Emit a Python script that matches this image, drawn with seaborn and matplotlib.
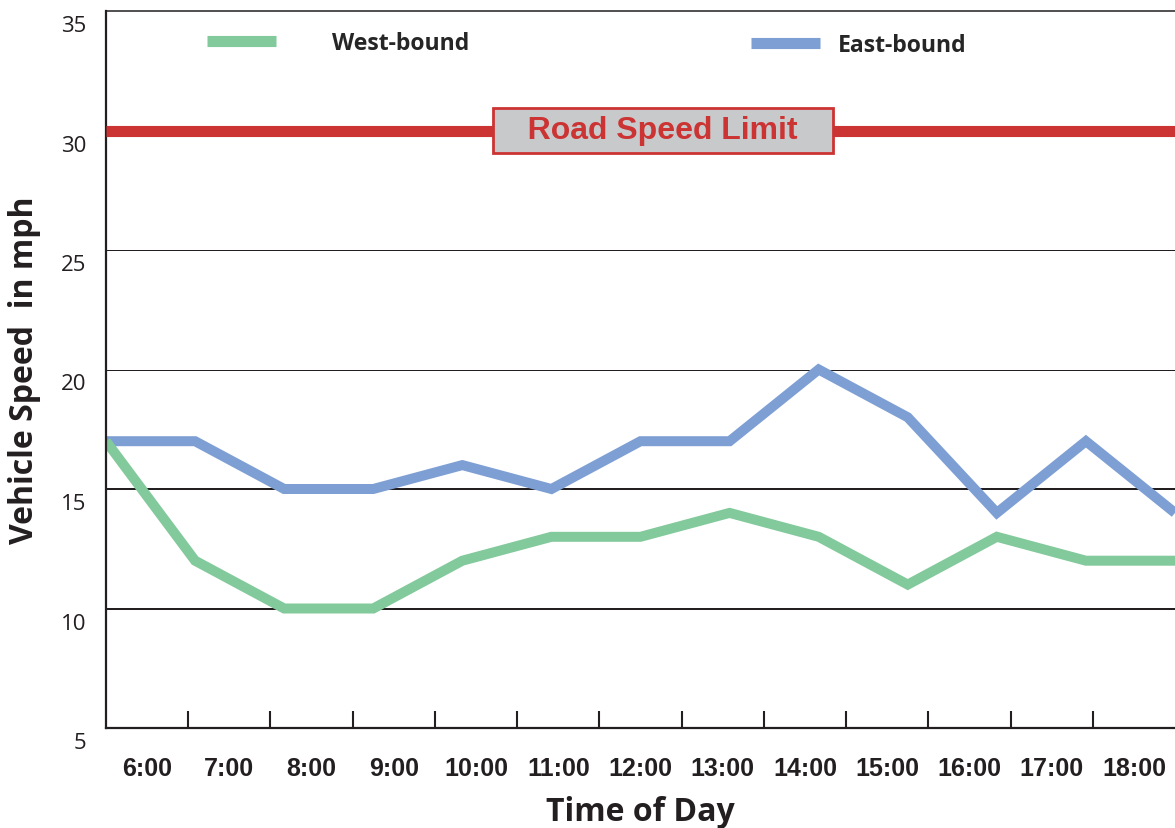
import numpy as np
import pandas as pd
import matplotlib
matplotlib.use("Agg")
import matplotlib.pyplot as plt
import matplotlib.transforms as mtransforms
import seaborn as sns

# data
hours = ["6:00", "7:00", "8:00", "9:00", "10:00", "11:00", "12:00",
         "13:00", "14:00", "15:00", "16:00", "17:00", "18:00"]
west_bound = [17, 12, 10, 10, 12, 13, 13, 14, 13, 11, 13, 12, 12]
east_bound = [17, 17, 15, 15, 16, 15, 17, 17, 20, 18, 14, 17, 14]
speed_limit = 30
y_ticks = [5, 10, 15, 20, 25, 30, 35]
grid_levels = [10, 15, 20, 25]
grid_widths = [2.0, 2.0, 1.0, 1.0]

ink = "#231f20"
green = "#82c99b"
blue = "#7e9fd4"
red = "#cc3333"

sns.set_style("white")
plt.rcParams["font.family"] = ["Open Sans", "DejaVu Sans"]

n = len(hours)
df = pd.DataFrame({
    "step": list(range(n)) * 2,
    "speed": east_bound + west_bound,
    "direction": ["East-bound"] * n + ["West-bound"] * n,
})

fig = plt.figure(figsize=(11.75, 8.29), dpi=100)
ax = fig.add_axes([106 / 1175, 1 - 729 / 829, 1 - 106 / 1175, (729 - 12) / 829])

# grid lines under the data
for lvl, w in zip(grid_levels, grid_widths):
    ax.axhline(lvl, color=ink, lw=w * 0.72, zorder=0.5)

sns.lineplot(data=df, x="step", y="speed", hue="direction",
             hue_order=["East-bound", "West-bound"],
             palette={"East-bound": blue, "West-bound": green},
             lw=7.2, legend=False, ax=ax, solid_joinstyle="miter",
             solid_capstyle="butt", zorder=2)

# speed limit
ax.axhline(speed_limit, color=red, lw=8, zorder=3, solid_capstyle="butt")
ax.text((663 - 106) / 1069 * (n - 1), speed_limit, "   Road Speed Limit   ",
        ha="center", va="center", color=red, fontsize=23, fontweight="bold",
        family=["Liberation Sans", "DejaVu Sans"], zorder=4,
        bbox=dict(boxstyle="square,pad=0.25", fc="#c8c9cb", ec=red, lw=2))

ax.set_xlim(0, n - 1)
ax.set_ylim(5, 35)

# axis frame
for side in ["left", "bottom", "top"]:
    ax.spines[side].set_color(ink)
ax.spines["left"].set_linewidth(1.6)
ax.spines["bottom"].set_linewidth(1.6)
ax.spines["top"].set_linewidth(1.1)
ax.spines["right"].set_visible(False)

# y ticks: labels only, shifted a little below their level
ax.set_yticks(y_ticks)
ax.set_yticklabels([str(v) for v in y_ticks], fontsize=16, color=ink)
ax.tick_params(axis="y", length=0, pad=14)
shift = mtransforms.ScaledTranslation(0, -12 / 100, fig.dpi_scale_trans)
for lab in ax.get_yticklabels():
    lab.set_transform(lab.get_transform() + shift)

# x: boundary tick marks, labels centred in each band
band = (n - 1) / n
ax.set_xticks([k * band for k in range(1, n)])
ax.set_xticklabels([])
ax.set_xticks([(k + 0.5) * band for k in range(n)], minor=True)
ax.set_xticklabels(hours, minor=True, fontsize=18, fontweight="bold",
                   color=ink, family=["Liberation Sans", "DejaVu Sans"])
ax.tick_params(axis="x", which="major", direction="in", length=12,
               width=1.5, color=ink, bottom=True)
ax.tick_params(axis="x", which="minor", length=0, pad=20, bottom=True)

ax.set_xlabel("Time of Day", fontsize=23, fontweight="bold", color=ink, va="center")
ax.xaxis.set_label_coords(0.5, (729 - 813) / 717)
ax.set_ylabel("Vehicle Speed  in mph", fontsize=23, fontweight="bold",
              color=ink, va="center")
ax.yaxis.set_label_coords((25 - 106) / 1069, 0.5)

# legend, two separate entries like the original
h_west = plt.Line2D([], [], color=green, lw=8, solid_capstyle="butt")
h_east = plt.Line2D([], [], color=blue, lw=8, solid_capstyle="butt")
leg_font = {"family": "Open Sans", "weight": "bold", "size": 16.6}
leg1 = ax.legend([h_west], ["West-bound"], loc="center left",
                 bbox_to_anchor=((207 - 106) / 1069, (729 - 44) / 717),
                 frameon=False, borderpad=0, borderaxespad=0,
                 handlelength=3.0, handletextpad=2.4, prop=leg_font)
ax.add_artist(leg1)
ax.legend([h_east], ["East-bound"], loc="center left",
          bbox_to_anchor=((751 - 106) / 1069, (729 - 46) / 717),
          frameon=False, borderpad=0, borderaxespad=0,
          handlelength=3.0, handletextpad=0.75, prop=leg_font)

fig.savefig("out.png", dpi=100)
